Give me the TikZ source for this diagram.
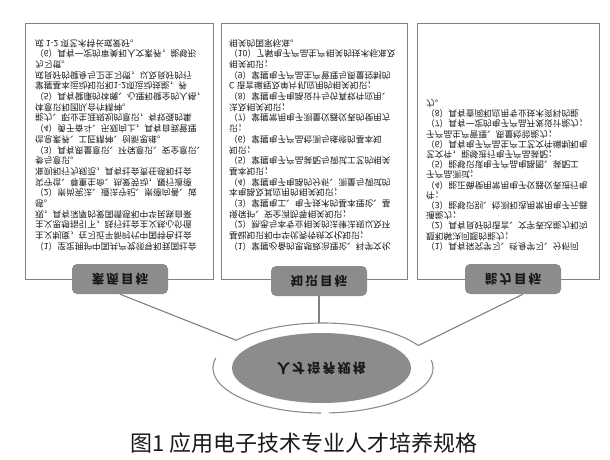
\documentclass[tikz,border=0pt]{standalone}
\usepackage{fontspec}
\usepackage{graphicx}
\newfontfamily\cjk{Noto Sans CJK SC}
\usetikzlibrary{shapes.geometric}
\tikzset{
  panel/.style={draw=black!50, line width=1.1pt, fill=white, inner sep=0pt, anchor=north west},
  body/.style={yscale=-1, transform shape, anchor=north west, align=left, inner sep=0pt, text=black!90},
  tag/.style={fill=black!45, rounded corners=5pt, minimum width=96pt, minimum height=30pt, inner sep=0pt,
    font=\cjk\bfseries\fontsize{12.5}{14}\selectfont, text=black!90},
  conn/.style={draw=black!50, line width=1.1pt},
  ringline/.style={draw=black!45, line width=1.1pt},
  core/.style={ellipse, fill=black!45, minimum width=179pt, minimum height=70pt, inner sep=0pt,
    font=\cjk\bfseries\fontsize{13}{15}\selectfont, text=black!90},
  captionstyle/.style={font=\cjk\fontsize{22}{25}\selectfont, inner sep=0pt, text=black!90},
}
\newcommand{\vflip}[1]{\scalebox{1}[-1]{#1}}
\begin{document}
\begin{tikzpicture}[x=1pt,y=-1pt]
\useasboundingbox (0,0) rectangle (610,460);
% panels
\node[panel, minimum width=188pt, minimum height=256pt] (b1) at (25,23) {};
\node[panel, minimum width=186pt, minimum height=256pt] (b2) at (221,23) {};
\node[panel, minimum width=182pt, minimum height=256pt] (b3) at (417,23) {};
% texts (mirrored vertically as in the reference)
\node[body, font=\cjk\fontsize{8.7}{10.7}\selectfont] (t1) at (35,251) {%
（1）坚定拥护中国共产党领导和我国社会\\
主义制度，在习近平新时代中国特色社会\\
主义思想指引下，践行社会主义核心价值\\
观，具有深厚的爱国情感和中华民族自豪\\
感。\\
（2）崇尚宪法、遵法守纪、崇德向善、诚\\
实守信、尊重生命、热爱劳动，履行道德\\
准则和行为规范，具有社会责任感和社会\\
参与意识。\\
（3）具有质量意识、环保意识、安全意识、\\
信息素养、工匠精神、创新思维。\\
（4）勇于奋斗、乐观向上，具有自我管理\\
能力、职业生涯规划的意识，有较强的集\\
体意识和团队合作精神。\\
（5）具有健康的体魄、心理和健全的人格，\\
掌握基本运动知识和1-2项运动技能，养\\
成良好的健身与卫生习惯，以及良好的行\\
为习惯。\\
（6）具有一定的审美和人文素养，能够形\\
成 1-2 项艺术特长或爱好。};
\node[body, font=\cjk\fontsize{8.7}{10.7}\selectfont] (t2) at (229,251) {%
（1）掌握必备的思想政治理论、科学文化\\
基础知识和中华优秀传统文化知识；\\
（2）熟悉与本专业相关的法律法规以及环\\
境保护、安全消防等相关知识；\\
（3）掌握电工、电子技术的基本理论、基\\
本电路及其应用的相关知识；\\
（4）掌握电子电路的分析、测量与调试的\\
基本知识；\\
（5）掌握电子产品装配与调试工艺的相关\\
知识；\\
（6）掌握电子产品检测与维修的基本知\\
识；\\
（7）掌握常用电子测量仪器仪表的使用方\\
法及相关知识；\\
（8）掌握电子电路设计与仿真软件应用、\\
C 语言编程及单片机应用的相关知识；\\
（9）掌握电子产品生产管理与质量控制的\\
相关知识；\\
（10）了解电子产品生产相关的技术标准及\\
相关的国家标准。};
\node[body, font=\cjk\fontsize{8.7}{10.2}\selectfont] (t3) at (426,251) {%
（1）具有探究学习、终身学习、分析问\\
题和解决问题的能力；\\
（2）具有良好的语言、文字表达能力和沟\\
通能力；\\
（3）能够识别、检测和选用常用电子元器\\
件；\\
（4）能正确使用常用电子仪器仪表进行电\\
子产品测试；\\
（5）能够识读电子产品电路图、装配工\\
艺文件，能够进行电子产品装配；\\
（6）具有电子产品生产工艺文件编制和电\\
子产品生产管理、质量检验能力；\\
（7）具有一定的电子产品开发设计能力；\\
（8）具有查阅和应用专业技术资料的能\\
力。};
% labels
\node[tag] (l1) at (120,279) {\vflip{素\,质\,目\,标}};
\node[tag] (l2) at (319,281) {\vflip{知\,识\,目\,标}};
\node[tag] (l3) at (513,279) {\vflip{能\,力\,目\,标}};
% ring
\coordinate (cL) at (236.3,340.3);
\coordinate (cM) at (319,323.0);
\coordinate (cR) at (418.3,345.5);
\coordinate (rl) at (215.8,357.9);
\coordinate (rb) at (328.8,412.9);
\draw[ringline] (cL) arc[start angle=142, end angle=30, x radius=110pt, y radius=45pt];
\draw[ringline] (rl) arc[start angle=167, end angle=269, x radius=110pt, y radius=45pt];
\draw[ringline] (rb) arc[start angle=273, end angle=370, x radius=110pt, y radius=45pt];
% connectors
\draw[conn] (l1.south) -- (cL);
\draw[conn] (l2.south) -- (cM);
\draw[conn] ([xshift=10pt]l3.south) -- (cR);
% core
\node[core] (core) at (321.5,368) {\vflip{人\,才\,培\,养\,规\,格}};
% caption
\node[captionstyle] (cap) at (304,443) {图1 应用电子技术专业人才培养规格};
\end{tikzpicture}
\end{document}
